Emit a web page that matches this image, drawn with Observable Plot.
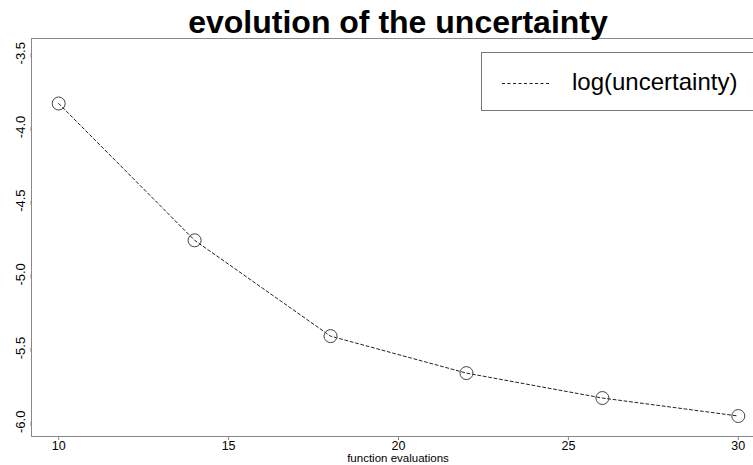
<!DOCTYPE html>
<html>
<head>
<meta charset="utf-8">
<script src="https://cdn.jsdelivr.net/npm/d3@7"></script>
<script src="https://cdn.jsdelivr.net/npm/@observablehq/plot@0.6"></script>
<style>
  html, body { margin: 0; padding: 0; background: white; overflow: hidden; }
  #wrap { position: relative; width: 753px; height: 465px; overflow: hidden; font-family: "Liberation Sans", Arial, Helvetica, sans-serif; }
  #title { position: absolute; left: 0; top: 6px; width: 796px; text-align: center; font-weight: bold; font-size: 32px; line-height: 32px; color: #000; white-space: nowrap; }
  #xlabel { position: absolute; left: 0; top: 453px; width: 796px; text-align: center; font-size: 11.5px; line-height: 11px; color: #000; white-space: nowrap; }
  #legend { position: absolute; left: 481px; top: 52px; width: 320px; height: 59px; border: 1px solid #777; box-sizing: border-box; background: white; }
  #legend svg { position: absolute; left: 0; top: 0; }
  #legend span { position: absolute; left: 90px; top: 17px; font-size: 24px; line-height: 24px; white-space: nowrap; color: #000; }
  #chart { position: absolute; left: 0; top: 0; width: 800px; }
  #chart svg { max-width: none !important; }
</style>
</head>
<body>
<div id="wrap">
  <div id="chart"></div>
  <div id="title"></div>
  <div id="xlabel"></div>
  <div id="legend"></div>
</div>
<script>
// ---- data ----
const evaluations = [10, 14, 18, 22, 26, 30];
const logUncertainty = [-3.841, -4.769, -5.419, -5.670, -5.839, -5.961];
const xTicks = [10, 15, 20, 25, 30];
const yTicks = [-3.5, -4.0, -4.5, -5.0, -5.5, -6.0];
const titleText = "evolution of the uncertainty";
const xLabelText = "function evaluations";
const seriesName = "log(uncertainty)";

const data = evaluations.map((x, i) => ({x, y: logUncertainty[i]}));

const chart = Plot.plot({
  width: 800,
  height: 465,
  marginLeft: 31,
  marginRight: 35,
  marginTop: 38,
  marginBottom: 29,
  style: {fontFamily: '"Liberation Sans", Arial, Helvetica, sans-serif', background: "white", overflow: "visible", maxWidth: "none"},
  x: {domain: [9.2, 30.8]},
  y: {domain: [-6.1, -3.4]},
  marks: [
    Plot.frame({stroke: "#888", strokeWidth: 1}),
    Plot.axisX({ticks: xTicks, tickSize: 4, tickPadding: 0.5, stroke: "#888", fill: "#000", fontSize: 12.5, label: null, tickFormat: d => String(d)}),
    Plot.axisY({ticks: yTicks, tickSize: 4, tickPadding: 7, stroke: "#888", fill: "#000", fontSize: 13, label: null,
      rotate: -90, textAnchor: "middle", lineAnchor: "middle", tickFormat: d => d.toFixed(1)}),
    Plot.line(data, {x: "x", y: "y", stroke: "#222", strokeWidth: 1, strokeDasharray: "3,2.5"}),
    Plot.dot(data, {x: "x", y: "y", r: 6.5, stroke: "#444", strokeWidth: 1, fill: "none"})
  ]
});
document.getElementById("chart").appendChild(chart);
document.getElementById("title").textContent = titleText;
document.getElementById("xlabel").textContent = xLabelText;

const legend = document.getElementById("legend");
const ns = "http://www.w3.org/2000/svg";
const lsvg = document.createElementNS(ns, "svg");
lsvg.setAttribute("width", 80); lsvg.setAttribute("height", 58);
const ln = document.createElementNS(ns, "line");
ln.setAttribute("x1", 20); ln.setAttribute("x2", 67);
ln.setAttribute("y1", 30.5); ln.setAttribute("y2", 30.5);
ln.setAttribute("stroke", "#222"); ln.setAttribute("stroke-width", 1);
ln.setAttribute("stroke-dasharray", "3,2.5");
lsvg.appendChild(ln);
legend.appendChild(lsvg);
const sp = document.createElement("span");
sp.textContent = seriesName;
legend.appendChild(sp);
</script>
</body>
</html>
